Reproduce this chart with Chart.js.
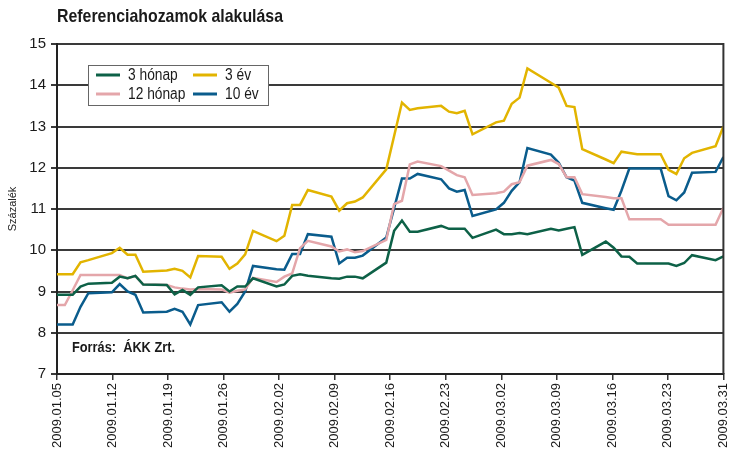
<!DOCTYPE html>
<html>
<head>
<meta charset="utf-8">
<script src="https://cdn.jsdelivr.net/npm/chart.js@4.4.1/dist/chart.umd.min.js"></script>
<style>
  html, body { margin: 0; padding: 0; background: #fff; }
  #wrap { width: 742px; height: 451px; }
</style>
</head>
<body>
<div id="wrap"><canvas id="chart" width="742" height="451"></canvas></div>
<script>
// Munkanapok (2009.01.05 - 2009.03.31)
const dates = [
  "2009.01.05", "2009.01.06", "2009.01.07", "2009.01.08", "2009.01.09",
  "2009.01.12", "2009.01.13", "2009.01.14", "2009.01.15", "2009.01.16",
  "2009.01.19", "2009.01.20", "2009.01.21", "2009.01.22", "2009.01.23",
  "2009.01.26", "2009.01.27", "2009.01.28", "2009.01.29", "2009.01.30",
  "2009.02.02", "2009.02.03", "2009.02.04", "2009.02.05", "2009.02.06",
  "2009.02.09", "2009.02.10", "2009.02.11", "2009.02.12", "2009.02.13",
  "2009.02.16", "2009.02.17", "2009.02.18", "2009.02.19", "2009.02.20",
  "2009.02.23", "2009.02.24", "2009.02.25", "2009.02.26", "2009.02.27",
  "2009.03.02", "2009.03.03", "2009.03.04", "2009.03.05", "2009.03.06",
  "2009.03.09", "2009.03.10", "2009.03.11", "2009.03.12", "2009.03.13",
  "2009.03.16", "2009.03.17", "2009.03.18", "2009.03.19", "2009.03.20",
  "2009.03.23", "2009.03.24", "2009.03.25", "2009.03.26", "2009.03.27",
  "2009.03.30", "2009.03.31"
];

// Hozamok (%)
const honap3 = [
  8.92, 8.92, 8.92, 9.12, 9.19,
  9.21, 9.36, 9.32, 9.38, 9.17,
  9.16, 8.93, 9.04, 8.92, 9.10,
  9.15, 9.00, 9.12, 9.12, 9.32,
  9.12, 9.17, 9.38, 9.42, 9.38,
  9.32, 9.31, 9.36, 9.36, 9.32,
  9.70, 10.47, 10.72, 10.45, 10.45,
  10.59, 10.52, 10.52, 10.52, 10.30,
  10.50, 10.39, 10.39, 10.42, 10.39,
  10.52, 10.48, 10.52, 10.56, 9.89,
  10.21, 10.06, 9.85, 9.84, 9.68,
  9.68, 9.68, 9.62, 9.69, 9.88,
  9.76, 9.85
];
const honap12 = [
  8.67, 8.67, 9.03, 9.40, 9.40,
  9.40, 9.40, 9.32, 9.38, 9.17,
  9.16, 9.10, 9.07, 9.05, 9.06,
  9.05, 8.97, 9.02, 9.05, 9.33,
  9.23, 9.36, 9.44, 10.05, 10.23,
  10.09, 9.97, 10.02, 9.95, 9.98,
  10.25, 11.12, 11.20, 12.08, 12.15,
  12.04, 11.93, 11.82, 11.77, 11.34,
  11.38, 11.42, 11.60, 11.65, 12.05,
  12.19, 12.09, 11.77, 11.77, 11.36,
  11.29, 11.26, 11.26, 10.75, 10.75,
  10.75, 10.62, 10.62, 10.62, 10.62,
  10.62, 11.03
];
const ev3 = [
  9.42, 9.42, 9.42, 9.71, 9.76,
  9.93, 10.06, 9.89, 9.89, 9.48,
  9.51, 9.55, 9.50, 9.34, 9.86,
  9.84, 9.55, 9.68, 9.90, 10.47,
  10.22, 10.35, 11.10, 11.10, 11.46,
  11.30, 10.96, 11.14, 11.18, 11.28,
  11.96, 12.77, 13.58, 13.40, 13.44,
  13.50, 13.36, 13.32, 13.38, 12.81,
  13.10, 13.14, 13.55, 13.70, 14.41,
  14.06, 13.94, 13.50, 13.47, 12.45,
  12.20, 12.11, 12.39, 12.36, 12.33,
  12.33, 11.95, 11.85, 12.23, 12.36,
  12.52, 13.00
];
const ev10 = [
  8.20, 8.20, 8.20, 8.63, 8.96,
  8.98, 9.18, 9.00, 8.92, 8.49,
  8.51, 8.58, 8.51, 8.20, 8.67,
  8.74, 8.51, 8.70, 9.00, 9.62,
  9.54, 9.53, 9.91, 9.91, 10.39,
  10.33, 9.68, 9.82, 9.82, 9.87,
  10.31, 11.02, 11.74, 11.74, 11.85,
  11.72, 11.50, 11.42, 11.46, 10.83,
  10.99, 11.15, 11.44, 11.65, 12.48,
  12.32, 12.12, 11.77, 11.69, 11.15,
  11.02, 10.98, 11.45, 11.98, 11.98,
  11.98, 11.31, 11.21, 11.40, 11.88,
  11.90, 12.26
];

// Tengelyfeliratok
const tickLabels = [
  "2009.01.05", "2009.01.12", "2009.01.19", "2009.01.26", "2009.02.02",
  "2009.02.09", "2009.02.16", "2009.02.23", "2009.03.02", "2009.03.09",
  "2009.03.16", "2009.03.23", "2009.03.31"
];
const yTicks = [7, 8, 9, 10, 11, 12, 13, 14, 15];

const chartTitle = "Referenciahozamok alakulása";
const sourceText = "Forrás:  ÁKK Zrt.";
const yTitle = "Százalék";

// napok száma 2009.01.05-től
function dayOffset(s) {
  const p = s.split(".").map(Number);
  return (Date.UTC(p[0], p[1] - 1, p[2]) - Date.UTC(2009, 0, 5)) / 86400000;
}
const xs = dates.map(dayOffset);
const xMax = dayOffset(tickLabels[tickLabels.length - 1]);

const series = [
  { label: "3 hónap", values: honap3, color: "#0d6147" },
  { label: "12 hónap", values: honap12, color: "#e4a6aa" },
  { label: "3 év", values: ev3, color: "#e2b400" },
  { label: "10 év", values: ev10, color: "#0a5c8c" }
];

const SANS = '"Liberation Sans", Arial, sans-serif';

// keskenyített szöveg (a minta condensed betűjéhez)
function narrowText(ctx, text, x, y, squeeze) {
  ctx.save();
  ctx.translate(x, y);
  ctx.scale(squeeze, 1);
  ctx.fillText(text, 0, 0);
  ctx.restore();
}

// cím, keret, jelmagyarázat, forrás
const extras = {
  id: "extras",
  beforeDraw(chart) {
    const ctx = chart.ctx;
    ctx.save();
    ctx.fillStyle = "#fff";
    ctx.fillRect(0, 0, chart.width, chart.height);
    ctx.restore();
  },
  afterDraw(chart) {
    const ctx = chart.ctx;
    const a = chart.chartArea;
    ctx.save();

    // cím
    ctx.font = "bold 19px " + SANS;
    ctx.fillStyle = "#1a1a1a";
    ctx.textBaseline = "middle";
    ctx.textAlign = "left";
    narrowText(ctx, chartTitle, 57, 17, 226 / ctx.measureText(chartTitle).width);

    // jobb oldali keret
    ctx.strokeStyle = "#333";
    ctx.lineWidth = 2;
    ctx.beginPath();
    ctx.moveTo(a.right, a.top - 1);
    ctx.lineTo(a.right, a.bottom);
    ctx.stroke();

    // jelmagyarázat
    const bx = 88, by = 65, bw = 180, bh = 40;
    ctx.fillStyle = "#fff";
    ctx.fillRect(bx, by, bw, bh);
    ctx.strokeStyle = "#666";
    ctx.lineWidth = 1;
    ctx.strokeRect(bx + 0.5, by + 0.5, bw, bh);
    const slots = [
      { i: 0, x: 96, y: 75 }, { i: 2, x: 193, y: 75 },
      { i: 1, x: 96, y: 94 }, { i: 3, x: 193, y: 94 }
    ];
    ctx.font = "16px " + SANS;
    ctx.fillStyle = "#1a1a1a";
    slots.forEach(s => {
      const ds = chart.data.datasets[s.i];
      ctx.strokeStyle = ds.borderColor;
      ctx.lineWidth = 3;
      ctx.beginPath();
      ctx.moveTo(s.x, s.y);
      ctx.lineTo(s.x + 24, s.y);
      ctx.stroke();
      narrowText(ctx, ds.label, s.x + 32, s.y + 1, 0.86);
    });

    // forrás
    ctx.font = "bold 15px " + SANS;
    ctx.fillStyle = "#1a1a1a";
    narrowText(ctx, sourceText, 72, 348, 103 / ctx.measureText(sourceText).width);

    ctx.restore();
  }
};

new Chart(document.getElementById("chart"), {
  type: "line",
  data: {
    datasets: series.map(s => ({
      label: s.label,
      data: xs.map((x, i) => ({ x: x, y: s.values[i] })),
      borderColor: s.color,
      backgroundColor: s.color,
      borderWidth: 2.5,
      pointRadius: 0,
      tension: 0,
      fill: false
    }))
  },
  options: {
    responsive: false,
    devicePixelRatio: 1,
    animation: false,
    layout: { padding: { top: 44, right: 1, left: 0, bottom: 0 } },
    plugins: {
      legend: { display: false },
      tooltip: { enabled: false }
    },
    scales: {
      x: {
        type: "linear",
        min: 0,
        max: xMax,
        afterBuildTicks: scale => {
          scale.ticks = tickLabels.map((_, i) => ({ value: i * xMax / (tickLabels.length - 1) }));
        },
        afterFit: scale => { scale.height = 77; },
        ticks: {
          autoSkip: false,
          minRotation: 90,
          maxRotation: 90,
          padding: 3,
          color: "#1a1a1a",
          font: { family: SANS, size: 13 },
          callback: (v, i) => tickLabels[i]
        },
        grid: { drawOnChartArea: false, drawTicks: true, tickLength: 6, color: "#333", lineWidth: 1.5 },
        border: { display: true, color: "#222", width: 2 }
      },
      y: {
        min: yTicks[0],
        max: yTicks[yTicks.length - 1],
        afterBuildTicks: scale => { scale.ticks = yTicks.map(v => ({ value: v })); },
        afterFit: scale => { scale.width = 57; },
        ticks: {
          padding: 5,
          color: "#1a1a1a",
          font: { family: SANS, size: 15 }
        },
        grid: { color: "#3a3a3a", lineWidth: 2, drawTicks: true, tickLength: 6 },
        border: { display: true, color: "#222", width: 2 },
        title: {
          display: true,
          text: yTitle,
          color: "#1a1a1a",
          font: { family: SANS, size: 11 },
          padding: { top: 6, bottom: 0 }
        }
      }
    }
  },
  plugins: [extras]
});
</script>
</body>
</html>
